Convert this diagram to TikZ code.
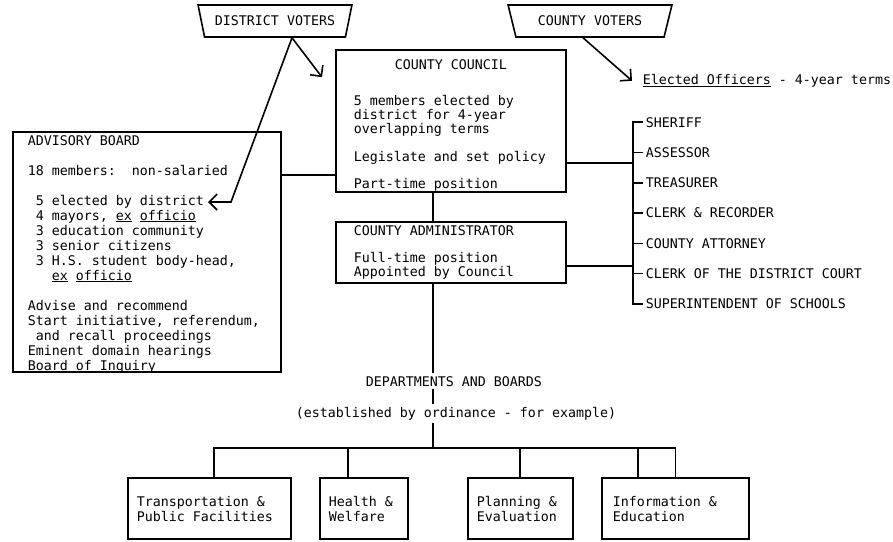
\documentclass[tikz,border=0pt]{standalone}
\usepackage{fontspec}
\setmainfont{DejaVu Sans Mono}
\usetikzlibrary{
    arrows.meta,
    positioning,
    shapes.geometric
}

\begin{document}
\begin{tikzpicture}[
        x=1pt, y=-1pt,
        line width=1.6pt,
        font=\fontsize{13.3}{15}\selectfont,
        box/.style={
            rectangle,
            draw,
            align=left,
            anchor=base west,
            inner ysep=0pt,
            execute at begin node={\spaceskip=0pt\xspaceskip=0pt}
        },
        voters/.style={
            trapezium,
            draw,
            shape border rotate=180,
            trapezium left angle=65,
            trapezium right angle=65,
            trapezium stretches=true,
            minimum height=32pt,
            inner sep=1pt
        },
        note/.style={
            anchor=base west,
            inner sep=2pt
        },
        line/.style={
            -{Straight Barb[length=8pt,width=16pt]}
        }
    ]

    \useasboundingbox (0,0) rectangle (893,541);

    \node[voters, minimum width=154pt] (district) at (275,21) {DISTRICT VOTERS};
    \node[voters, minimum width=164pt] (county) at (590,21) {COUNTY VOTERS};

    \node[box, inner xsep=18pt, text width=194pt, text height=19pt, text depth=123pt,
        font=\fontsize{13.3}{14}\selectfont] (council) at (335,69)
        {\makebox[\linewidth]{COUNTY COUNCIL}\\[22pt]
         5 members elected by\\
         district for 4-year\\
         overlapping terms\\[14pt]
         Legislate and set policy\\[13pt]
         Part-time position};

    \node[box, inner xsep=18pt, text width=194pt, text height=13pt, text depth=48pt,
        font=\fontsize{13.3}{14}\selectfont] (admin) at (335,235)
        {COUNTY ADMINISTRATOR\\[13pt]
         Full-time position\\
         Appointed by Council};

    \node[box, inner xsep=15pt, text width=238pt, text height=13pt, text depth=227pt]
        (advisory) at (12,145)
        {ADVISORY BOARD\\[15pt]
         18 members:\hphantom{0}\ non-salaried\\[15pt]
         \hphantom{0}5 elected by district\\
         \hphantom{0}4 mayors, \underline{ex} \underline{officio}\\
         \hphantom{0}3 education community\\
         \hphantom{0}3 senior citizens\\
         \hphantom{0}3 H.S. student body-head,\\
         \hphantom{000}\underline{ex} \underline{officio}\\[15pt]
         Advise and recommend\\
         Start initiative, referendum,\\
         \hphantom{0}and recall proceedings\\
         Eminent domain hearings\\
         Board of Inquiry};

    \node[note] (officers) at (640,84.5)
        {\underline{Elected Officers} - 4-year terms};

    \foreach \name [count=\i] in {SHERIFF, ASSESSOR, TREASURER,
            {CLERK \& RECORDER}, COUNTY ATTORNEY,
            CLERK OF THE DISTRICT COURT, SUPERINTENDENT OF SCHOOLS}
        \node[note] (officer\i) at (643,{96.7+30.3*\i}) {\name};

    \node[note] (dept) at (363,386) {DEPARTMENTS AND BOARDS};
    \node[note] (estab) at (293,417) {(established by ordinance - for example)};

    \node[box, inner xsep=9pt, text width=145pt, text height=28.5pt, text depth=32.5pt]
        (transport) at (127,506.5) {Transportation \&\\ Public Facilities};
    \node[box, inner xsep=9pt, text width=70pt, text height=28.5pt, text depth=32.5pt]
        (health) at (319,506.5) {Health \&\\ Welfare};
    \node[box, inner xsep=9pt, text width=87pt, text height=28.5pt, text depth=32.5pt]
        (planning) at (467,506.5) {Planning \&\\ Evaluation};
    \node[box, inner xsep=11pt, text width=125pt, text height=28.5pt, text depth=32.5pt]
        (info) at (601,506.5) {Information \&\\ Education};

    \coordinate (bend) at (231,202);
    \coordinate (elected) at (208,202);
    \coordinate (spine) at (633,0);
    \coordinate (bus) at (0,448);
    \coordinate (trunk) at ([xshift=-18pt]admin.south);

    \draw[line] ([xshift=17pt]district.south) -- ([xshift=-13pt,yshift=-28pt]council.north west);
    \draw[line] ([xshift=17pt]district.south) -- (bend) -- (elected);
    \draw[line] ([xshift=-7pt]county.south) -- ([xshift=-8pt]officers.west);

    \draw ([yshift=-54pt]council.west) -- ([yshift=-54pt]council.west -| advisory.east);
    \draw ([yshift=-42pt]council.east) -- ([yshift=-42pt]council.east -| spine);
    \draw ([yshift=-13.5pt]admin.east) -- ([yshift=-13.5pt]admin.east -| spine);
    \draw ([xshift=-18pt]council.south) -- ([xshift=-18pt]admin.north);

    \draw (officer1.west) -- (officer1.west -| spine)
        -- (officer7.west -| spine) -- (officer7.west);
    \foreach \i in {2,...,6}
        \draw (officer\i.west) -- (officer\i.west -| spine);

    \draw (trunk) -- (trunk |- dept.north);
    \draw (trunk |- dept.south) -- (trunk |- estab.north);
    \draw (trunk |- estab.south) -- (trunk |- bus);

    \draw ([xshift=4.5pt]transport.north) |- (info.north |- bus) -- (info.north);
    \draw ([xshift=-16pt]health.north) -- ([xshift=-16pt]health.north |- bus);
    \draw ([xshift=-0.5pt]planning.north) -- ([xshift=-0.5pt]planning.north |- bus);
    \draw ([xshift=-37.5pt]info.north) -- ([xshift=-37.5pt]info.north |- bus);

\end{tikzpicture}
\end{document}
